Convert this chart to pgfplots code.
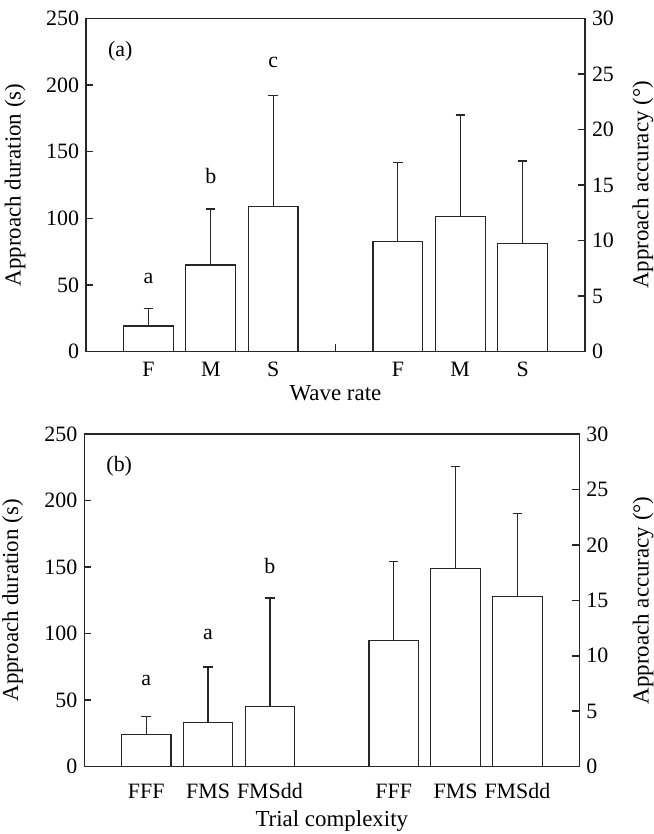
\documentclass[border=0pt]{standalone}
\usepackage{fontspec}
\setmainfont{Liberation Serif}
\usepackage{pgfplots}
\pgfplotsset{compat=1.18}

\pgfplotsset{
  panel/.style={
    scale only axis, anchor=south west,
    xmin=0, xmax=8,
    tick align=inside, major tick length=3.5bp,
    axis line style={black!85, line width=0.75bp},
    tick style={black!85, line width=0.75bp},
    /pgf/number format/assume math mode=true,
    tick label style={font=\fontsize{11}{12}\selectfont},
    label style={font=\fontsize{11.5}{13}\selectfont},
  },
  durbar/.style={
    ybar, bar width=0.8, fill=white, draw=black!85, line width=0.6bp,
    error bars/.cd, y dir=plus, y explicit,
    error bar style={line width=0.6bp, black!85},
    error mark options={rotate=90, mark size=2.35bp, line width=0.6bp, black!85},
  },
}

\begin{document}
\begin{tikzpicture}[font=\fontsize{11}{13}\selectfont]
\useasboundingbox (0,0) rectangle (327bp,417bp);

% ---------- panel (a) ----------
\begin{axis}[panel,
  at={(43bp,241.15bp)}, width=249.5bp, height=166.7bp,
  ymin=0, ymax=250, ytick={0,50,...,250}, ytick pos=left,
  xtick={1,2,3,5,6,7}, xticklabels={F,M,S,F,M,S},
  xtick style={draw=none},
  xticklabel style={yshift=-1.8bp},
  xlabel={Wave rate},
  xlabel style={at={(axis description cs:0.5,0)}, anchor=center, yshift=-20.8bp},
  ylabel={Approach duration (s)},
  ylabel style={at={(axis description cs:-0.142,0.5)}, anchor=center},
]
\addplot[durbar] coordinates {(1,19.25) +- (0,13.25) (2,65) +- (0,42) (3,108.75) +- (0,83.25)};
\draw[black!85, line width=0.75bp] (axis cs:4,0) -- ++(0,3.8bp);
\node at (axis cs:0.55,225) {(a)};
\node at (axis cs:1,55) {a};
\node at (axis cs:2,132) {b};
\node at (axis cs:3,217) {c};
\end{axis}
\begin{axis}[panel,
  at={(43bp,241.15bp)}, width=249.5bp, height=166.7bp,
  ymin=0, ymax=30, ytick={0,5,...,30},
  hide x axis, axis y line*=right,
  ylabel={Approach accuracy (°)},
  ylabel style={at={(axis description cs:1.116,0.5)}, anchor=center},
]
\addplot[durbar] coordinates {(5,9.9) +- (0,7.14) (6,12.15) +- (0,9.15) (7,9.75) +- (0,7.41)};
\end{axis}

% ---------- panel (b) ----------
\begin{axis}[panel,
  at={(42.15bp,33.65bp)}, width=247.5bp, height=166.35bp,
  ymin=0, ymax=250, ytick={0,50,...,250}, ytick pos=left,
  xtick={1,2,3,5,6,7}, xticklabels={FFF,FMS,FMSdd,FFF,FMS,FMSdd},
  xtick style={draw=none},
  xticklabel style={yshift=-5bp},
  xlabel={Trial complexity},
  xlabel style={at={(axis description cs:0.5,0)}, anchor=center, yshift=-27bp},
  ylabel={Approach duration (s)},
  ylabel style={at={(axis description cs:-0.145,0.5)}, anchor=center},
]
\addplot[durbar] coordinates {(1,24.3) +- (0,13.5) (2,33.1) +- (0,41.8) (3,45.1) +- (0,81.7)};
\node at (axis cs:0.565,225.5) {(b)};
\node at (axis cs:1,65) {a};
\node at (axis cs:2,99.5) {a};
\node at (axis cs:3,151) {b};
\end{axis}
\begin{axis}[panel,
  at={(42.15bp,33.65bp)}, width=247.5bp, height=166.35bp,
  ymin=0, ymax=30, ytick={0,5,...,30},
  hide x axis, axis y line*=right,
  ylabel={Approach accuracy (°)},
  ylabel style={at={(axis description cs:1.129,0.5)}, anchor=center},
]
\addplot[durbar] coordinates {(5,11.4) +- (0,7.1) (6,17.85) +- (0,9.25) (7,15.33) +- (0,7.47)};
\end{axis}
\end{tikzpicture}
\end{document}
